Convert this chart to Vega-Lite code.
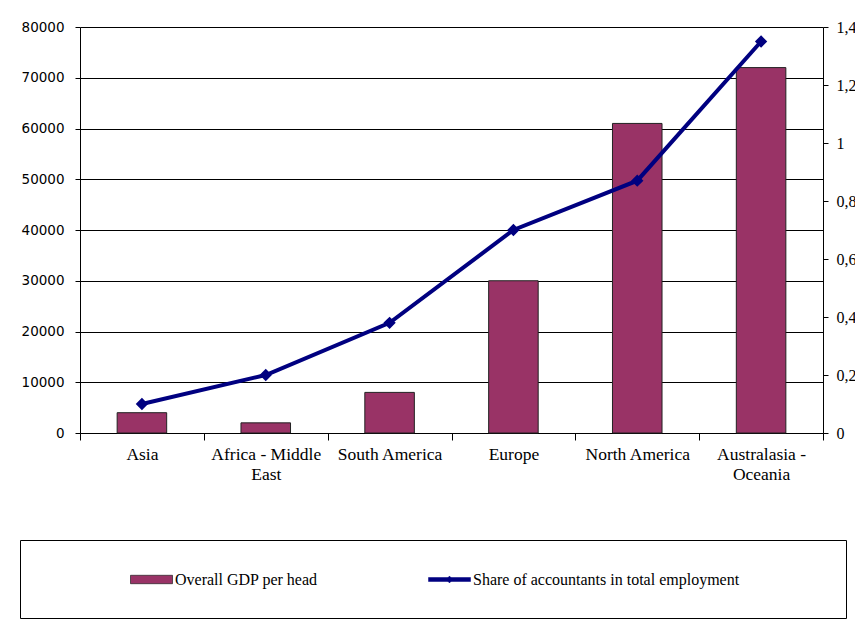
{
  "$schema": "https://vega.github.io/schema/vega-lite/v6.json",
  "width": 743,
  "height": 406,
  "autosize": {"type": "none"},
  "padding": {"left": 80, "top": 27, "right": 32, "bottom": 189},
  "background": "white",
  "config": {"view": {"stroke": null}},
  "data": {"values": [
    {"region": "Asia", "gdp": 4000, "share": 0.1},
    {"region": "Africa - Middle East", "gdp": 2000, "share": 0.2},
    {"region": "South America", "gdp": 8000, "share": 0.38},
    {"region": "Europe", "gdp": 30000, "share": 0.7},
    {"region": "North America", "gdp": 61000, "share": 0.87},
    {"region": "Australasia - Oceania", "gdp": 72000, "share": 1.35}
  ]},
  "encoding": {
    "x": {
      "field": "region", "type": "nominal", "sort": null,
      "scale": {"paddingInner": 0, "paddingOuter": 0},
      "axis": {
        "title": null, "labelAngle": 0, "tickBand": "extent", "tickSize": 7,
        "labelPadding": 5, "labelFont": "Liberation Serif", "labelFontSize": 17.5,
        "labelColor": "black", "domainColor": "black", "tickColor": "black",
        "labelLineHeight": 20, "labelLimit": 200,
        "labelExpr": "datum.value == 'Africa - Middle East' ? ['Africa - Middle', 'East'] : datum.value == 'Australasia - Oceania' ? ['Australasia -', 'Oceania'] : datum.label"
      }
    }
  },
  "layer": [
    {
      "mark": {"type": "bar", "width": {"band": 0.4}, "stroke": "#222", "strokeWidth": 1},
      "encoding": {
        "y": {
          "field": "gdp", "type": "quantitative",
          "scale": {"domain": [0, 80000], "nice": false},
          "axis": {
            "title": null, "values": [0, 10000, 20000, 30000, 40000, 50000, 60000, 70000, 80000],
            "format": "d", "grid": true, "gridColor": "black", "gridWidth": 1,
            "tickSize": 5, "labelPadding": 11, "labelFont": "DejaVu Sans", "labelFontSize": 13.5,
            "labelColor": "black", "domainColor": "black", "tickColor": "black"
          }
        },
        "fill": {
          "datum": "Overall GDP per head", "type": "nominal",
          "scale": {"domain": ["Overall GDP per head"], "range": ["#993366"]},
          "legend": {
            "orient": "none", "legendX": 50, "legendY": 543, "direction": "horizontal",
            "title": null, "padding": 0,
            "labelFont": "Liberation Serif", "labelFontSize": 16, "labelColor": "black",
            "labelLimit": 900, "labelOffset": 26, "symbolSize": 324,
            "symbolType": "M-1,-0.467H3.667V0.467H-1Z",
            "symbolStrokeColor": "#222", "symbolStrokeWidth": 0.7
          }
        }
      }
    },
    {
      "mark": {"type": "line", "strokeWidth": 4, "point": {"shape": "diamond", "size": 90, "filled": true, "fill": "#000080"}},
      "encoding": {
        "y": {
          "field": "share", "type": "quantitative",
          "scale": {"domain": [0, 1.4], "nice": false},
          "axis": {
            "orient": "right", "title": null, "grid": false,
            "values": [0, 0.2, 0.4, 0.6, 0.8, 1, 1.2, 1.4],
            "labelExpr": "replace(format(datum.value, '.1~f'), '.', ',')",
            "tickSize": 5, "labelPadding": 8, "labelFont": "Liberation Serif", "labelFontSize": 16,
            "labelColor": "black", "domainColor": "black", "tickColor": "black"
          }
        },
        "stroke": {
          "datum": "Share of accountants in total employment", "type": "nominal",
          "scale": {"domain": ["Share of accountants in total employment"], "range": ["#000080"]},
          "legend": {
            "orient": "none", "legendX": -60, "legendY": 513, "direction": "horizontal",
            "title": "\u00a0", "titleOrient": "left", "titlePadding": 378, "titleFontSize": 14,
            "padding": 30, "strokeColor": "black",
            "labelFont": "Liberation Serif", "labelFontSize": 16, "labelColor": "black",
            "labelLimit": 900, "labelOffset": 26, "symbolSize": 324,
            "symbolType": "M-1,-0.222H3.667V0.222H-1Z M1,0L1.333,-0.39L1.667,0L1.333,0.39Z",
            "symbolFillColor": "#000080", "symbolStrokeColor": "#000080", "symbolStrokeWidth": 0.5,
            "labelExpr": "pad(datum.label, 59, '\u00a0') + '\u200b'"
          }
        }
      }
    }
  ],
  "resolve": {"scale": {"y": "independent"}}
}
